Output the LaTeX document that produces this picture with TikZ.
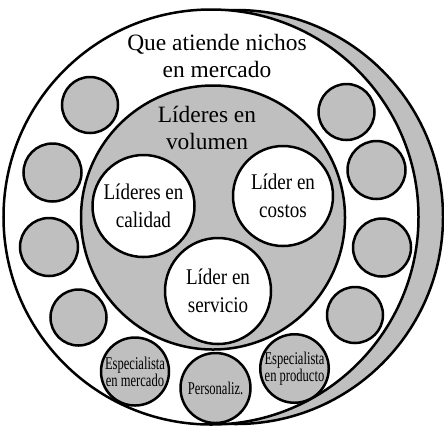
\documentclass[tikz,border=0pt]{standalone}
\usepackage{fontspec}
\setmainfont{Liberation Serif}
\newfontfamily\narrowfont[FakeStretch=0.85]{Liberation Serif}
\newfontfamily\tightfont[FakeStretch=0.7]{Liberation Serif}

\begin{document}
\begin{tikzpicture}[x=1bp,y=-1bp,line width=2.5bp,
	ring/.style={circle,draw,inner sep=0pt,align=center,minimum size=#1},
	lider/.style={ring=#1,fill=white,font=\narrowfont\fontsize{22.5}{28}\selectfont},
	nicho/.style={ring=#1,fill=gray!50,font=\tightfont\fontsize{18}{16}\selectfont},
	titulo/.style={align=center,inner sep=0pt,font=\fontsize{23.5}{28}\selectfont}]
	\useasboundingbox (0,0) rectangle (444,427);
	% anillo exterior con su sombra
	\node[ring=414bp,fill=gray!50] (sombra) at (236,217) {};
	\node[ring=415bp,fill=white] (exterior) at (211,217) {};
	\node[titulo] (nichos) at (217,56) {Que atiende nichos\\en mercado};
	
	% nichos sin texto
	\node[nicho=56bp] (izq1) at (90,105) {};
	\node[nicho=58bp] (izq2) at (52.5,172.5) {};
	\node[nicho=58bp] (izq3) at (49,247) {};
	\node[nicho=56bp] (izq4) at (78.5,317.5) {};
	\node[nicho=56bp] (der1) at (346.5,112) {};
	\node[nicho=58bp] (der2) at (376.5,170) {};
	\node[nicho=58bp] (der3) at (382,247.5) {};
	\node[nicho=56bp] (der4) at (355,315) {};
	
	% nichos con texto
	\node[nicho=68bp] (mercado) at (135,371.5) {Especialista\\en mercado};
	\node[nicho=70bp] (personaliz) at (215.5,388) {Personaliz.};
	\node[nicho=68bp] (producto) at (294.5,368.5) {Especialista\\en producto};
	
	% circulo central
	\node[ring=264bp,fill=gray!50] (volumen) at (213,217.5) {};
	\node[titulo] (volumentxt) at (207,128) {Líderes en\\volumen};
	\node[lider=102bp] (calidad) at (143.5,206) {Líderes en\\calidad};
	\node[lider=100bp] (costos) at (283,196) {Líder en\\costos};
	\node[lider=106bp] (servicio) at (218,291) {Líder en\\servicio};
\end{tikzpicture}
\end{document}
